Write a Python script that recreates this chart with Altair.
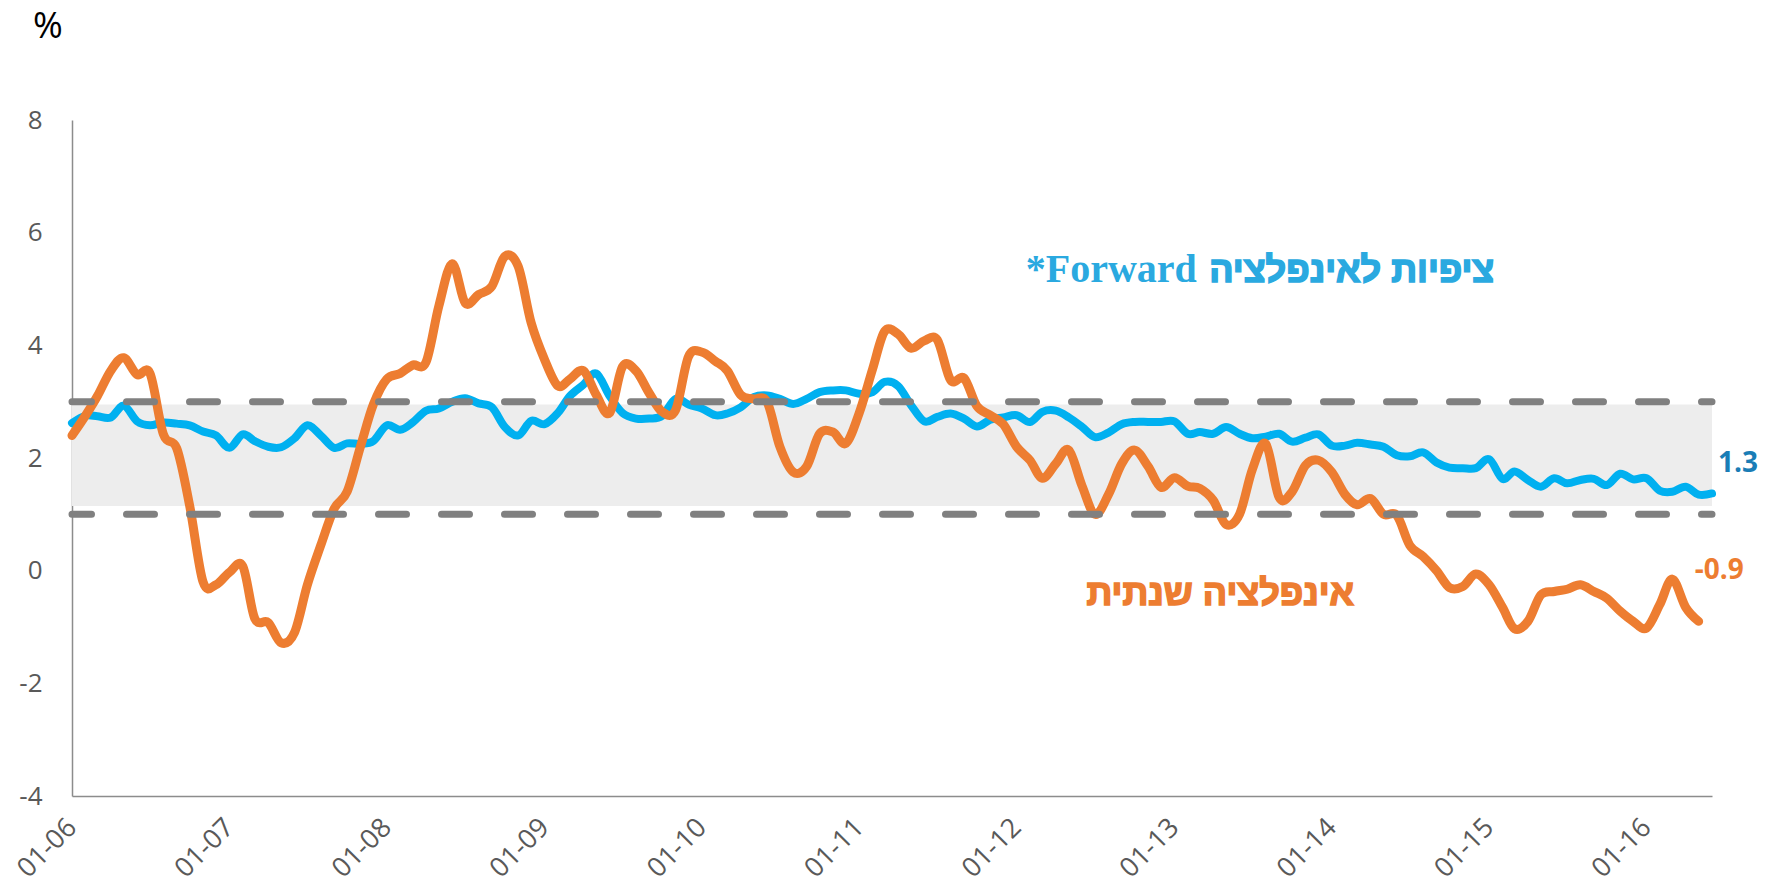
import altair as alt
import pandas as pd

# ---- data (monthly, Jan 2006 onwards) ----
orange_vals = [
    2.40, 2.75, 3.10, 3.55, 3.78, 3.48, 3.50, 2.42, 2.17, 1.15,
    -0.20, -0.25, -0.03, 0.08, -0.85, -0.92, -1.28, -1.10, -0.25, 0.45,
    1.10, 1.40, 2.20, 2.95, 3.40, 3.50, 3.65, 3.70, 4.70, 5.45,
    4.75, 4.90, 5.05, 5.58, 5.40, 4.40, 3.75, 3.28, 3.40, 3.55,
    3.12, 2.80, 3.62, 3.55, 3.15, 2.82, 2.85, 3.80, 3.88, 3.72,
    3.55, 3.12, 3.05, 3.00, 2.20, 1.75, 1.85, 2.43, 2.46, 2.26,
    2.80, 3.58, 4.25, 4.20, 3.95, 4.08, 4.10, 3.38, 3.42, 2.92,
    2.76, 2.60, 2.20, 1.96, 1.64, 1.90, 2.14, 1.50, 1.00, 1.35,
    1.90, 2.14, 1.85, 1.48, 1.65, 1.50, 1.46, 1.25, 0.82, 1.00,
    1.80, 2.25, 1.30, 1.40, 1.87, 1.96, 1.75, 1.35, 1.17, 1.28,
    1.00, 0.98, 0.45, 0.25, 0.00, -0.30, -0.28, -0.06, -0.25, -0.65,
    -1.03, -0.90, -0.43, -0.37, -0.33, -0.25, -0.37, -0.49, -0.72, -0.90,
    -1.02, -0.60, -0.15, -0.65, -0.90,
]
blue_vals = [
    2.62, 2.75, 2.74, 2.72, 2.93, 2.65, 2.58, 2.63, 2.61, 2.58,
    2.47, 2.40, 2.18, 2.42, 2.30, 2.20, 2.19, 2.35, 2.58, 2.40,
    2.18, 2.26, 2.25, 2.30, 2.58, 2.50, 2.63, 2.84, 2.88, 3.00,
    3.06, 2.97, 2.90, 2.55, 2.40, 2.66, 2.60, 2.80, 3.10, 3.30,
    3.50, 3.10, 2.80, 2.70, 2.70, 2.75, 3.05, 2.95, 2.88, 2.76,
    2.79, 2.90, 3.08, 3.11, 3.05, 2.96, 3.05, 3.17, 3.20, 3.20,
    3.14, 3.17, 3.35, 3.28, 2.94, 2.65, 2.73, 2.79, 2.70, 2.56,
    2.68, 2.72, 2.76, 2.64, 2.82, 2.84, 2.72, 2.55, 2.37, 2.45,
    2.60, 2.64, 2.64, 2.64, 2.65, 2.43, 2.46, 2.43, 2.55, 2.43,
    2.35, 2.38, 2.43, 2.29, 2.36, 2.42, 2.22, 2.22, 2.27, 2.24,
    2.20, 2.05, 2.03, 2.10, 1.92, 1.83, 1.82, 1.82, 1.98, 1.63,
    1.76, 1.61, 1.49, 1.64, 1.55, 1.61, 1.63, 1.52, 1.72, 1.62,
    1.64, 1.42, 1.40, 1.49, 1.35, 1.37,
]
months = pd.date_range("2006-01-01", periods=len(blue_vals), freq="MS").strftime("%Y/%m/%d").tolist()

band_low, band_high = 1.15, 2.95          # light target band
target_lines = [1, 3]                     # dashed target limits
year_ticks = list(range(2006, 2017))

orange_df = pd.DataFrame({"date": months[:len(orange_vals)], "value": orange_vals})
blue_df = pd.DataFrame({"date": months, "value": blue_vals})
band_df = pd.DataFrame({"date": [months[0]], "date2": [months[-1]],
                        "value": [band_low], "value2": [band_high]})
rules_df = pd.DataFrame({"date": [months[0]] * 2, "date2": [months[-1]] * 2,
                         "value": target_lines})

LABEL_FONT = "Open Sans"
HEB_FONT = "Liberation Sans"
GRAY = "#595959"
BLUE_TXT = "#2aa9e0"
ORANGE = "#ed7d31"

x_enc = alt.X(
    "date:T",
    title=None,
    scale=alt.Scale(domain=[alt.DateTime(year=2006, month=1, date=1),
                            alt.DateTime(year=2016, month=6, date=1)]),
    axis=alt.Axis(
        values=[alt.DateTime(year=y, month=1, date=1) for y in year_ticks],
        format="%m-%y", labelAngle=-45, labelAlign="right", labelBaseline="middle",
        labelPadding=27, ticks=False, tickSize=0, grid=False,
        labelFont=LABEL_FONT, labelFontSize=27, labelColor=GRAY,
        domainColor="#8c8c8c", domainWidth=1.5, labelOverlap=False,
    ),
)
y_enc = alt.Y(
    "value:Q",
    title=None,
    scale=alt.Scale(domain=[-4, 8], nice=False, zero=False),
    axis=alt.Axis(
        values=list(range(-4, 9, 2)), labelExpr="'' + datum.value",
        labelPadding=30, ticks=False, tickSize=0, grid=False,
        labelFont=LABEL_FONT, labelFontSize=26, labelColor=GRAY,
        domainColor="#8c8c8c", domainWidth=1.5,
    ),
)

band = alt.Chart(band_df).mark_rect(color="#ededed").encode(
    x=x_enc, x2="date2:T", y=y_enc, y2="value2:Q")

blue_line = alt.Chart(blue_df).mark_line(
    color="#00b0f0", strokeWidth=8, interpolate="cardinal", strokeCap="round", strokeJoin="round"
).encode(x=x_enc, y=y_enc)

orange_line = alt.Chart(orange_df).mark_line(
    color=ORANGE, strokeWidth=9, interpolate="cardinal", strokeCap="round", strokeJoin="round"
).encode(x=x_enc, y=y_enc)

rules = alt.Chart(rules_df).mark_rule(
    color="#808080", strokeWidth=7, strokeDash=[28, 35], strokeDashOffset=8.5, strokeCap="round"
).encode(x=x_enc, x2="date2:T", y=y_enc)

# ---- annotations ----
ann_blue_heb = pd.DataFrame({"date": ["2015/01/13"], "value": [5.12], "t": ["ציפיות לאינפלציה"]})
ann_blue_fwd = pd.DataFrame({"date": ["2013/02/22"], "value": [5.12], "t": ["*Forward"]})
ann_orange = pd.DataFrame({"date": ["2014/02/22"], "value": [-0.61], "t": ["אינפלציה שנתית"]})
ann_end_blue = pd.DataFrame({"date": [months[-1]], "value": [1.90], "t": ["1.3"]})
ann_end_orange = pd.DataFrame({"date": ["2016/04/22"], "value": [0.0], "t": ["-0.9"]})
ann_unit = pd.DataFrame({"t": ["%"]})

t1 = alt.Chart(ann_blue_heb).mark_text(
    align="right", baseline="alphabetic", font=HEB_FONT, fontWeight="bold",
    fontSize=36, color=BLUE_TXT, stroke=BLUE_TXT, strokeWidth=1.6
).encode(x=x_enc, y=y_enc, text="t:N")
t2 = alt.Chart(ann_blue_fwd).mark_text(
    align="right", baseline="alphabetic", font="Liberation Serif", fontWeight="bold",
    fontSize=40, color=BLUE_TXT).encode(x=x_enc, y=y_enc, text="t:N")
t3 = alt.Chart(ann_orange).mark_text(
    align="right", baseline="alphabetic", font=HEB_FONT, fontWeight="bold",
    fontSize=36, color=ORANGE, stroke=ORANGE, strokeWidth=1.6
).encode(x=x_enc, y=y_enc, text="t:N")
t4 = alt.Chart(ann_end_blue).mark_text(
    align="left", baseline="middle", dx=6, font=LABEL_FONT, fontWeight="bold",
    fontSize=28, color="#1a7db6").encode(x=x_enc, y=y_enc, text="t:N")
t5 = alt.Chart(ann_end_orange).mark_text(
    align="left", baseline="middle", font=LABEL_FONT, fontWeight="bold",
    fontSize=28, color=ORANGE).encode(x=x_enc, y=y_enc, text="t:N")
t6 = alt.Chart(ann_unit).mark_text(
    align="left", baseline="alphabetic", font=LABEL_FONT, fontSize=36, color="#000000"
).encode(x=alt.value(-39), y=alt.value(-82), text="t:N")

chart = alt.layer(band, blue_line, orange_line, rules, t1, t2, t3, t4, t5, t6).properties(
    width=1640, height=676,
    autosize=alt.AutoSizeParams(type="none"),
    padding={"left": 64, "top": 112, "right": 55, "bottom": 90},
).configure_view(stroke=None)

chart.save("out.html", embed_options={"renderer": "svg", "actions": False})
